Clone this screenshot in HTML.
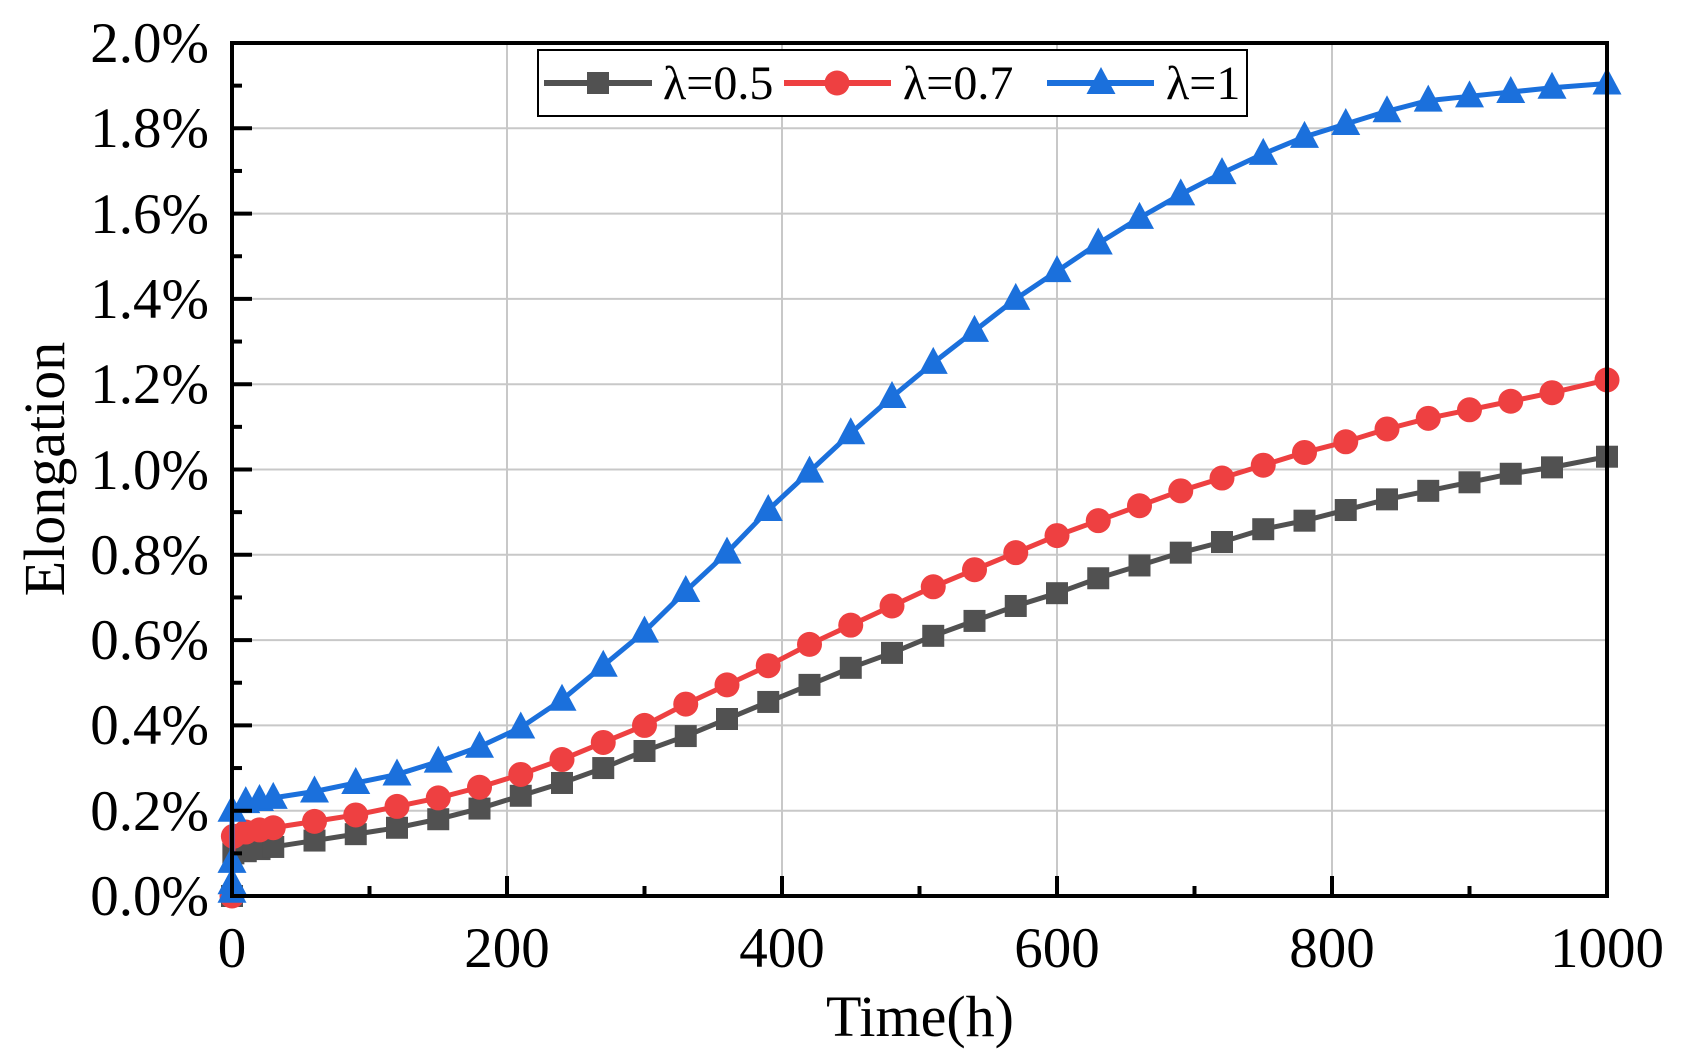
<!DOCTYPE html>
<html><head><meta charset="utf-8"><style>
html,body{margin:0;padding:0;background:#fff;}
svg{display:block;}
text{font-family:"Liberation Serif",serif;fill:#000;}
</style></head><body>
<svg id="s" width="1682" height="1061" viewBox="0 0 1682 1061" xmlns="http://www.w3.org/2000/svg">
<rect width="1682" height="1061" fill="#fff"/>
<g id="grid" stroke="#c8c8c8" stroke-width="2"></g>
<g id="ser"></g>
<rect x="232" y="43" width="1375" height="853" fill="none" stroke="#000" stroke-width="4"/>
<g id="ticks" stroke="#000" stroke-width="4"></g>
<g font-size="57" text-anchor="end">
<text x="209" y="915">0.0%</text>
<text x="209" y="830">0.2%</text>
<text x="209" y="744">0.4%</text>
<text x="209" y="659">0.6%</text>
<text x="209" y="574">0.8%</text>
<text x="209" y="489">1.0%</text>
<text x="209" y="403">1.2%</text>
<text x="209" y="318">1.4%</text>
<text x="209" y="233">1.6%</text>
<text x="209" y="147">1.8%</text>
<text x="209" y="62">2.0%</text>
</g>
<g font-size="57" text-anchor="middle">
<text x="232" y="967">0</text>
<text x="507" y="967">200</text>
<text x="782" y="967">400</text>
<text x="1057" y="967">600</text>
<text x="1332" y="967">800</text>
<text x="1607" y="967">1000</text>
</g>
<text x="920" y="1036" font-size="58" text-anchor="middle">Time(h)</text>
<text transform="translate(64,469) rotate(-90)" font-size="58" text-anchor="middle">Elongation</text>
<rect x="538" y="50" width="709" height="66" fill="#fff" stroke="#000" stroke-width="2"/>
<g font-size="48">
<text x="663" y="99">λ=0.5</text>
<text x="903" y="99">λ=0.7</text>
<text x="1166" y="99">λ=1</text>
</g>
<g id="leg"></g>
</svg>
<script>
var NS="http://www.w3.org/2000/svg";
function X(t){return 232+t*1.375;}
function Y(v){return 896-v*426.5;}
function el(p,tag,a){var e=document.createElementNS(NS,tag);for(var k in a)e.setAttribute(k,a[k]);p.appendChild(e);return e;}
var g=document.getElementById('grid');
for(var i=1;i<5;i++)el(g,'line',{x1:X(i*200),x2:X(i*200),y1:43,y2:896});
for(var j=1;j<10;j++)el(g,'line',{x1:232,x2:1607,y1:Y(j*0.2),y2:Y(j*0.2)});
var tk=document.getElementById('ticks');
for(var i=1;i<10;i++){var L=i%2?10:20;el(tk,'line',{x1:X(i*100),x2:X(i*100),y1:896,y2:896-L});}
for(var j=1;j<20;j++){var L=j%2?10:20;el(tk,'line',{x1:232,x2:232+L,y1:Y(j*0.1),y2:Y(j*0.1)});}
var T=[10,20,30];for(var t=60;t<=960;t+=30)T.push(t);T.push(1000);
var B=[0.105,0.11,0.115,0.13,0.145,0.16,0.18,0.205,0.235,0.265,0.30,0.34,0.375,0.415,0.455,0.495,0.535,0.57,0.61,0.645,0.68,0.71,0.745,0.775,0.805,0.83,0.86,0.88,0.905,0.93,0.95,0.97,0.99,1.005,1.03];
var R=[0.15,0.155,0.16,0.175,0.19,0.21,0.23,0.255,0.285,0.32,0.36,0.40,0.45,0.495,0.54,0.59,0.635,0.68,0.725,0.765,0.805,0.845,0.88,0.915,0.95,0.98,1.01,1.04,1.065,1.095,1.12,1.14,1.16,1.18,1.21];
var U=[0.22,0.225,0.23,0.245,0.265,0.285,0.315,0.35,0.395,0.46,0.54,0.62,0.715,0.805,0.905,0.995,1.085,1.17,1.25,1.325,1.40,1.465,1.53,1.59,1.645,1.695,1.74,1.78,1.81,1.84,1.865,1.875,1.885,1.895,1.905];
function mk(p,type,x,y,c){
 if(type=='s')el(p,'rect',{x:x-11,y:y-11,width:22,height:22,fill:c});
 else if(type=='c')el(p,'circle',{cx:x,cy:y,r:12.5,fill:c});
 else el(p,'polygon',{points:(x)+','+(y-16)+' '+(x-14.5)+','+(y+11)+' '+(x+14.5)+','+(y+11),fill:c});
}
var S=document.getElementById('ser');
function series(pts,type,c){
 el(S,'polyline',{points:pts.map(function(p){return X(p[0])+','+Y(p[1]);}).join(' '),fill:'none',stroke:c,'stroke-width':5,'stroke-linejoin':'round'});
 pts.forEach(function(p){mk(S,type,X(p[0]),Y(p[1]),c);});
}
function build(v,first){var a=first.slice();for(var i=0;i<T.length;i++)a.push([T[i],v[i]]);return a;}
series(build(B,[[0,0.0],[1,0.1]]),'s','#515151');
series(build(R,[[0,0.0],[1,0.14]]),'c','#ee4041');
series(build(U,[[0,0.01],[0,0.03],[0,0.08],[0,0.2]]),'t','#1b70dc');
var lg=document.getElementById('leg');
[[544,652,598,'s','#515151'],[784,891,837,'c','#ee4041'],[1047,1154,1101,'t','#1b70dc']].forEach(function(l){
 el(lg,'line',{x1:l[0],x2:l[1],y1:83,y2:83,stroke:l[4],'stroke-width':6});mk(lg,l[3],l[2],83,l[4]);});
</script>
</body></html>
